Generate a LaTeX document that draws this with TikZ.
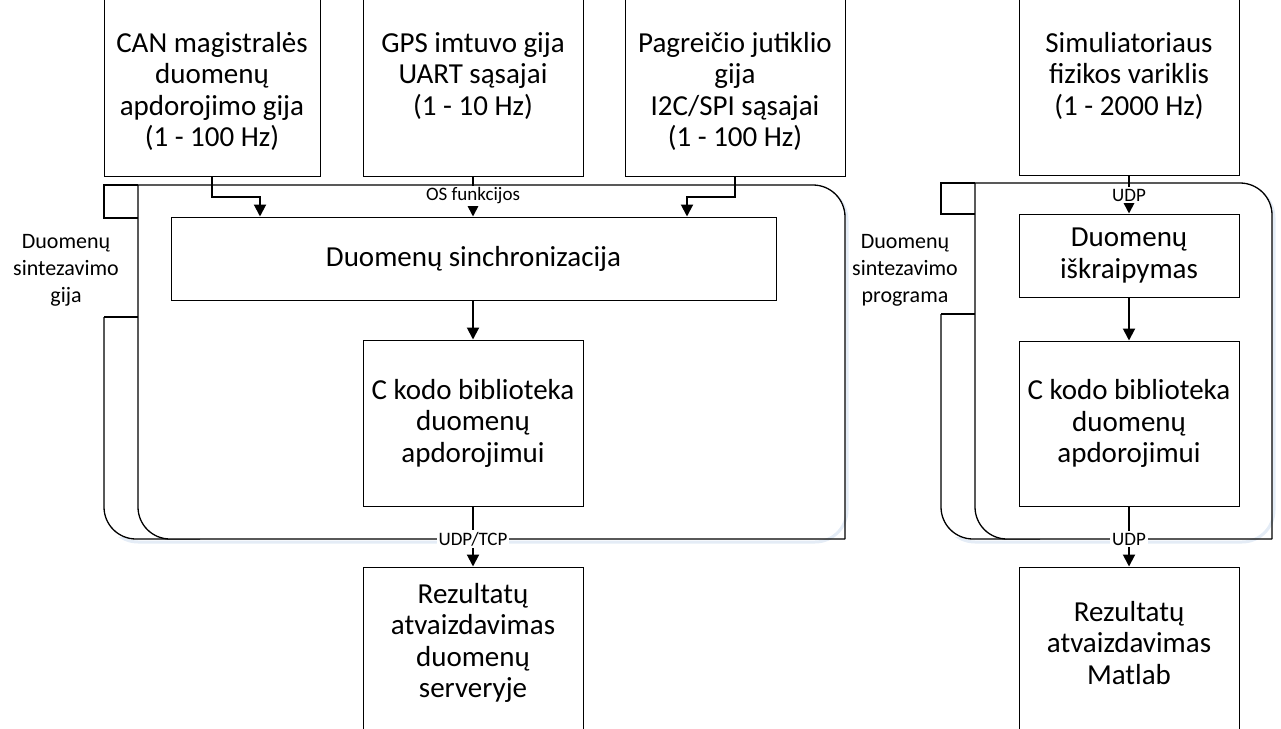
\documentclass[tikz,border=0pt]{standalone}
\usepackage{fontspec}
\setmainfont{Carlito}
\usetikzlibrary{arrows.meta}
\definecolor{shade}{RGB}{228,236,246}
\begin{document}
\begin{tikzpicture}[x=1pt,y=-1pt,
  box/.style={draw, line width=1pt, inner sep=0pt},
  boxtext/.style={align=center, inner sep=0pt, font=\fontsize{29}{31.5}\selectfont},
  frame/.style={line width=1.3pt},
  frameshadow/.style={line width=3pt, draw=shade},
  arr/.style={line width=2pt, -{Triangle[width=12pt,length=12pt]}},
  lbl/.style={fill=white, inner sep=2pt, font=\fontsize{19}{22}\selectfont},
  side/.style={align=center, font=\fontsize{22}{27}\selectfont}]
\useasboundingbox (0,0) rectangle (1281,728);

% soft shadows under the container frames
\begin{scope}[shift={(2,3)}]
  \draw[frameshadow, rounded corners=32pt] (104,317) -- (104,539) -- (845,539) -- (845,185) -- (700,185);
  \draw[frameshadow, rounded corners=32pt] (941,314) -- (941,539) -- (1272,539) -- (1272,183) -- (1150,183);
\end{scope}

% ---------- left group: data fusion thread ----------
% back frame: upper tab and rounded lower part
\draw[frame] (138,218) -- (104,218) -- (104,185) -- (138,185);
\fill[white] (105,318) rectangle (200,537);
\draw[frame] (138,317) -- (104,317);
\draw[frame, rounded corners=32pt] (104,317) -- (104,539) -- (200,539);
% front frame
\fill[white, rounded corners=32pt] (138,185) -- (845,185) -- (845,539) -- (138,539) -- cycle;
\draw[frame, rounded corners=32pt] (138,185) -- (845,185) -- (845,539);
\draw[frame, rounded corners=32pt] (138,185) -- (138,539) -- (845,539);

\node[side] (lside) at (66,270) {Duomenų\\sintezavimo\\gija};

% source threads
\node[box, minimum width=216pt, minimum height=180pt] (can) at (212,86) {};
\node[boxtext, anchor=north] (cant) at (212,32) {CAN magistralės\\duomenų\\apdorojimo gija\\(1 - 100 Hz)};
\node[box, minimum width=220pt, minimum height=180pt] (gps) at (473,86) {};
\node[boxtext, anchor=north] (gpst) at (473,32) {GPS imtuvo gija\\UART sąsajai\\(1 - 10 Hz)};
\node[box, minimum width=220pt, minimum height=180pt] (pag) at (735,86) {};
\node[boxtext, anchor=north] (pagt) at (735,32) {Pagreičio jutiklio\\gija\\I2C/SPI sąsajai\\(1 - 100 Hz)};

% processing blocks
\node[box, boxtext, minimum width=605pt, minimum height=83pt] (sync) at (473.5,258.5) {Duomenų sinchronizacija};
\node[box, boxtext, minimum width=220pt, minimum height=166pt] (ckodo) at (473,423) {C kodo biblioteka\\duomenų\\apdorojimui};
\node[box, minimum width=220pt, minimum height=170pt] (rez) at (473,652) {};
\node[boxtext] (rezt) at (473,643) {Rezultatų\\atvaizdavimas\\duomenų\\serveryje};

% connectors
\coordinate (canbend) at (260,197);
\coordinate (pagbend) at (687,197);
\draw[arr] (can.south) |- (canbend) -- (canbend |- sync.north);
\draw[arr] (pag.south) |- (pagbend) -- (pagbend |- sync.north);
\draw[arr] (gps.south) -- (gps.south |- sync.north);
\node[lbl] (osf) at (473,196) {OS funkcijos};
\draw[arr] (sync.south -| ckodo.north) -- (ckodo.north);
\draw[arr] (ckodo.south) -- (rez.north);
\node[lbl] (udptcp) at (473,539) {UDP/TCP};

% ---------- right group: simulation program ----------
\draw[frame] (975,214) -- (941,214) -- (941,183) -- (975,183);
\fill[white] (942,315) rectangle (1000,537);
\draw[frame] (975,314) -- (941,314);
\draw[frame, rounded corners=32pt] (941,314) -- (941,539) -- (1040,539);
\fill[white, rounded corners=32pt] (975,183) -- (1272,183) -- (1272,539) -- (975,539) -- cycle;
\draw[frame, rounded corners=32pt] (975,183) -- (1272,183) -- (1272,539);
\draw[frame, rounded corners=32pt] (975,183) -- (975,539) -- (1272,539);

\node[side] (rside) at (905,270) {Duomenų\\sintezavimo\\programa};

\node[box, minimum width=220pt, minimum height=180pt] (sim) at (1129,85) {};
\node[boxtext, anchor=north] (simt) at (1129,32) {Simuliatoriaus\\fizikos variklis\\(1 - 2000 Hz)};
\node[box, boxtext, minimum width=220pt, minimum height=83pt] (isk) at (1129,255.5) {Duomenų\\iškraipymas};
\node[box, boxtext, minimum width=220pt, minimum height=165pt] (ckodo2) at (1129,423.5) {C kodo biblioteka\\duomenų\\apdorojimui};
\node[box, minimum width=220pt, minimum height=170pt] (rez2) at (1129,652) {};
\node[boxtext] (rez2t) at (1129,643) {Rezultatų\\atvaizdavimas\\Matlab};

\draw[arr] (sim.south) -- (isk.north);
\node[lbl] (udp1) at (1129,195) {UDP};
\draw[arr] (isk.south) -- (ckodo2.north);
\draw[arr] (ckodo2.south) -- (rez2.north);
\node[lbl] (udp2) at (1129,539) {UDP};
\end{tikzpicture}
\end{document}
